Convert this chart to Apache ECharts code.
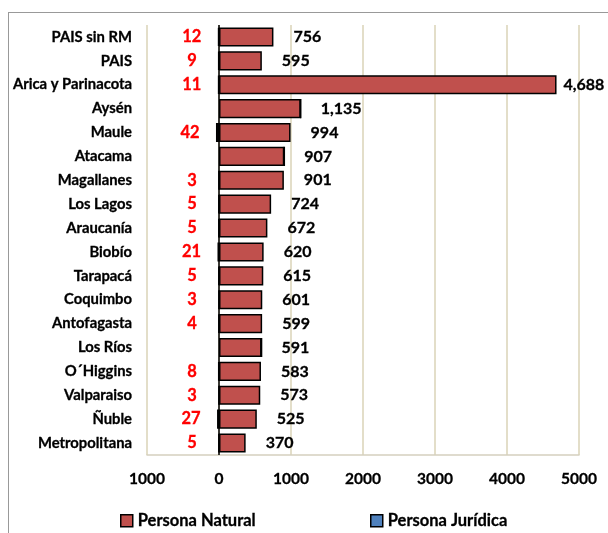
<!DOCTYPE html>
<html><head><meta charset="utf-8">
<script src="https://cdn.jsdelivr.net/npm/echarts@6/dist/echarts.min.js"></script>
<style>html,body{margin:0;padding:0;background:#fff}#c{width:608px;height:533px;position:relative}
#frame{position:absolute;left:8px;top:12px;width:700px;height:600px;border-left:1.5px solid #999;border-top:1.5px solid #999;pointer-events:none}</style>
</head><body><div id="c"></div><div id="frame"></div>
<script>
const categories = ["PAIS sin RM","PAIS","Arica y Parinacota","Aysén","Maule","Atacama","Magallanes","Los Lagos","Araucanía","Biobío","Tarapacá","Coquimbo","Antofagasta","Los Ríos","O´Higgins","Valparaiso","Ñuble","Metropolitana"];
const personaNatural = [756,595,4688,1135,994,907,901,724,672,620,615,601,599,591,583,573,525,370];
const personaJuridica = [12,9,11,0,42,0,3,5,5,21,5,3,4,0,8,3,27,5];
const xTicks = [-1000,0,1000,2000,3000,4000,5000];
const seriesNames = ["Persona Natural","Persona Jurídica"];

const FONT = 'Lato, "Open Sans", sans-serif';
const chart = echarts.init(document.getElementById('c'));
const natData = personaNatural.map(v => v > 4000 ? {value:v, label:{distance:7}} : v);
const jurData = personaJuridica.map(v => -v);
const bold = {fontFamily:FONT,fontWeight:'bold',color:'#000',textBorderColor:'#000',textBorderWidth:0.3};
chart.setOption({
  animation:false,
  grid:{left:147,right:29,top:25,bottom:78,show:false},
  legend:[
    {data:[seriesNames[0]],left:120,top:512,padding:0,icon:'rect',itemWidth:12,itemHeight:12,itemGap:4,
     itemStyle:{borderColor:'#000',borderWidth:1.5},
     textStyle:Object.assign({fontSize:16.5},bold)},
    {data:[seriesNames[1]],left:370,top:512,padding:0,icon:'rect',itemWidth:12,itemHeight:12,itemGap:4,
     itemStyle:{borderColor:'#000',borderWidth:1.5},
     textStyle:Object.assign({fontSize:16.5},bold)}
  ],
  xAxis:{type:'value',min:xTicks[0],max:xTicks[xTicks.length-1],interval:1000,
    axisLine:{show:true,lineStyle:{color:'#D5D0BE',width:1.5}},axisTick:{show:false},
    splitLine:{show:true,lineStyle:{color:'#E3DEC9',width:2}},
    axisLabel:Object.assign({margin:16,fontSize:15.5,
      formatter:v=>String(Math.abs(v))},bold)},
  yAxis:{type:'category',data:categories,inverse:true,
    axisLine:{show:false},
    axisTick:{show:false},
    axisLabel:Object.assign({margin:15,fontSize:14.8},bold)},
  series:[
    {name:seriesNames[0],type:'bar',stack:'a',data:natData,barCategoryGap:'20%',
     itemStyle:{color:'#C0504D',borderColor:'#000',borderWidth:1.5},
     label:Object.assign({show:true,position:'right',distance:20,fontSize:16,
       formatter:p=>Number(p.value).toLocaleString('en-US')},bold)},
    {name:seriesNames[1],type:'bar',stack:'a',data:jurData,
     itemStyle:{color:'#4F81BD',borderColor:'#000',borderWidth:1.5},
     label:{show:true,position:'left',align:'center',distance:26,fontFamily:FONT,fontWeight:'bold',fontSize:16.5,color:'#FF0000',
       textBorderColor:'#FF0000',textBorderWidth:0.3,
       formatter:p=>p.value===0?'':String(Math.abs(p.value))}},
    {type:'line',data:[],markLine:{silent:true,symbol:'none',label:{show:false},
      lineStyle:{color:'#000',width:1.5,type:'solid'},data:[{xAxis:0}]}}
  ]
});
</script></body></html>
